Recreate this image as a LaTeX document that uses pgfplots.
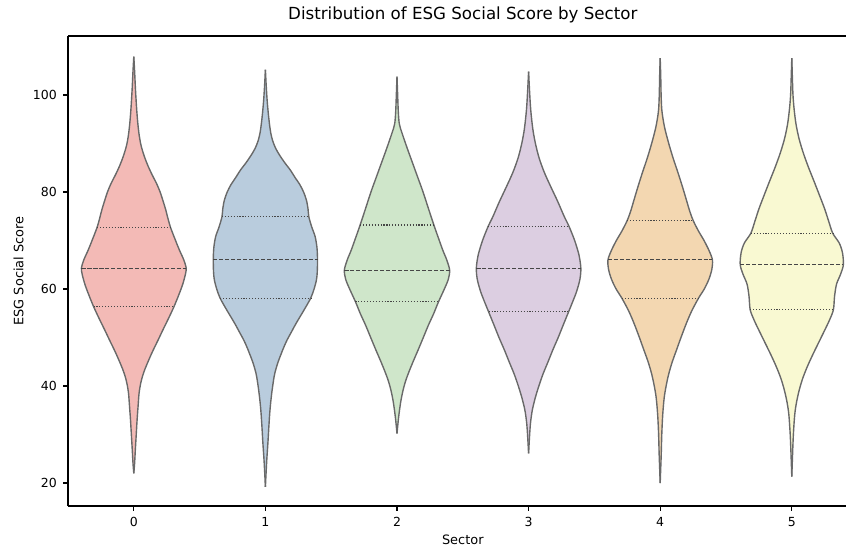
\documentclass[border=0pt]{standalone}
\usepackage{fontspec}
\setmainfont{DejaVu Sans}
\usepackage{pgfplots}
\usepackage{pgfplotstable}
\pgfplotsset{compat=1.18}
\usepgfplotslibrary{fillbetween}

\definecolor{c0}{RGB}{243,186,182}
\definecolor{c1}{RGB}{185,204,221}
\definecolor{c2}{RGB}{207,230,202}
\definecolor{c3}{RGB}{220,206,225}
\definecolor{c4}{RGB}{243,215,177}
\definecolor{c5}{RGB}{249,249,210}
\definecolor{vedge}{RGB}{105,105,105}
\definecolor{qline}{RGB}{70,70,70}

% half-widths (w) of each violin, in x units, at score v
\pgfplotstableread{
v w
22 0
24 0.006
27 0.012
30.2 0.019
33 0.025
36 0.033
38.5 0.040
40.5 0.052
42 0.066
43.5 0.085
45 0.108
46.5 0.132
48 0.158
49.5 0.185
51.5 0.220
54 0.265
56.4 0.306
59 0.345
61 0.372
63 0.392
64.3 0.398
66 0.380
68 0.347
70.5 0.310
72.7 0.279
74.5 0.260
76.3 0.243
78 0.224
80 0.200
81.8 0.172
83.5 0.140
85.5 0.106
87.5 0.078
89.5 0.056
91.5 0.042
94 0.031
97 0.022
101 0.013
105 0.006
107.9 0
}\vA
\pgfplotstableread{
v w
19.2 0
22 0.005
25 0.011
28.2 0.019
31.5 0.026
35.1 0.035
38.5 0.048
41.9 0.066
43.5 0.080
45 0.097
46.5 0.118
48 0.140
49.5 0.165
51 0.195
52.9 0.233
55.5 0.290
58.1 0.344
60 0.370
61.9 0.388
63.5 0.394
66 0.396
68.5 0.392
70.8 0.378
72.8 0.352
74.9 0.330
76.5 0.324
78.3 0.312
80 0.290
81.5 0.262
83 0.225
84.5 0.190
86 0.148
87.5 0.110
89 0.078
90.5 0.056
92 0.042
94 0.031
96.5 0.021
99 0.013
102 0.006
105.2 0
}\vB
\pgfplotstableread{
v w
30.2 0
33 0.010
35 0.019
37 0.030
39 0.045
41 0.065
43 0.092
45 0.122
47.4 0.160
50 0.200
52.5 0.238
55 0.280
57.4 0.316
60 0.360
62 0.390
63.9 0.400
66 0.378
68 0.348
70.5 0.315
73.2 0.280
76.5 0.240
80 0.198
83 0.158
86 0.118
89 0.078
92 0.040
94 0.018
96.5 0.010
100 0.005
103.8 0
}\vC
\pgfplotstableread{
v w
26.1 0
30 0.008
32.5 0.015
35 0.028
37.5 0.050
40 0.078
42.5 0.110
45 0.148
47.5 0.185
50 0.225
52.5 0.262
55.3 0.304
57.5 0.337
59.5 0.365
62 0.390
64.3 0.397
67 0.383
70 0.350
72.8 0.309
75 0.270
78 0.222
81 0.170
84 0.120
87 0.080
90 0.052
93 0.032
97 0.016
101 0.007
104.8 0
}\vD
\pgfplotstableread{
v w
20 0
23 0.004
26 0.008
30 0.012
34 0.019
37.5 0.030
40 0.045
42.5 0.065
45 0.092
47.5 0.125
50 0.158
53 0.200
55.5 0.240
58.1 0.291
60 0.335
62 0.370
64 0.392
66 0.397
68 0.370
70 0.333
72 0.290
74.1 0.251
76 0.225
78 0.203
81 0.170
84 0.135
87 0.098
90 0.065
93 0.036
95 0.022
97 0.012
100 0.007
104 0.004
107.6 0
}\vE
\pgfplotstableread{
v w
21.3 0
26 0.006
30 0.012
34 0.022
36.5 0.035
39 0.055
41.5 0.082
44 0.118
46.5 0.160
49 0.205
51.5 0.250
53.5 0.285
55.7 0.316
58.5 0.325
61 0.340
63 0.370
65 0.392
67.5 0.385
69.5 0.360
71.5 0.311
74 0.280
76.5 0.250
79 0.215
82 0.172
85 0.128
88 0.088
91 0.055
94 0.032
97 0.018
100 0.009
104 0.004
107.6 0
}\vF

\newcommand\drawviolin[3]{%
  \addplot[name path=R#1, draw=none, smooth, forget plot] table[x expr=#1+\thisrow{w}, y=v]{#2};
  \addplot[name path=L#1, draw=none, smooth, forget plot] table[x expr=#1-\thisrow{w}, y=v]{#2};
  \addplot[fill=#3, draw=none, forget plot] fill between[of=R#1 and L#1];
  \addplot[vedge, line width=1pt, smooth, forget plot] table[x expr=#1+\thisrow{w}, y=v]{#2};
  \addplot[vedge, line width=1pt, smooth, forget plot] table[x expr=#1-\thisrow{w}, y=v]{#2};
}
\newcommand\quart[7]{% index, q1, w1, med, wm, q3, w3
  \addplot[qline, line width=0.8pt, dash pattern=on 0.8pt off 1.3pt, forget plot] coordinates {(#1-#3,#2) (#1+#3,#2)};
  \addplot[qline, line width=0.8pt, dash pattern=on 3pt off 1.3pt, forget plot] coordinates {(#1-#5,#4) (#1+#5,#4)};
  \addplot[qline, line width=0.8pt, dash pattern=on 0.8pt off 1.3pt, forget plot] coordinates {(#1-#7,#6) (#1+#7,#6)};
}

\begin{document}
\begin{tikzpicture}
\begin{axis}[
  at={(48.96pt,-364.32pt)}, anchor=south west,
  width=568.5pt, height=338.4pt, scale only axis,
  xmin=-0.5, xmax=5.5, ymin=15.26, ymax=112.16,
  axis x line*=bottom, axis y line*=left,
  xtick={0,1,2,3,4,5}, ytick={20,40,60,80,100},
  tick align=outside, major tick length=3.5pt,
  tick style={black, line width=0.8pt},
  axis line style={line width=0.8pt},
  extra description/.code={\draw[black, line width=0.8pt] (rel axis cs:0,1) -- (rel axis cs:1,1);},
  /pgf/number format/assume math mode=true,
  ticklabel style={font=\fontsize{9}{10}\selectfont},
  xticklabel style={yshift=-1pt},
  yticklabel style={xshift=-1pt},
  label style={font=\fontsize{9.3}{11}\selectfont},
  xlabel={Sector}, ylabel={ESG Social Score},
  xlabel style={yshift=1pt},
  title={Distribution of ESG Social Score by Sector},
  title style={font=\fontsize{12}{14}\selectfont, at={(0.5,1)}, anchor=base, yshift=6pt},
]
\drawviolin{0}{\vA}{c0}
\drawviolin{1}{\vB}{c1}
\drawviolin{2}{\vC}{c2}
\drawviolin{3}{\vD}{c3}
\drawviolin{4}{\vE}{c4}
\drawviolin{5}{\vF}{c5}
\quart{0}{56.4}{0.306}{64.3}{0.398}{72.7}{0.279}
\quart{1}{58.1}{0.344}{66.0}{0.396}{74.9}{0.330}
\quart{2}{57.4}{0.316}{63.9}{0.400}{73.2}{0.280}
\quart{3}{55.3}{0.304}{64.3}{0.397}{72.8}{0.309}
\quart{4}{58.1}{0.291}{66.0}{0.397}{74.1}{0.251}
\quart{5}{55.7}{0.316}{65.0}{0.392}{71.5}{0.311}
\end{axis}
\pgfresetboundingbox
\useasboundingbox (0,0) rectangle (609.12pt,-393.12pt);
\end{tikzpicture}
\end{document}
